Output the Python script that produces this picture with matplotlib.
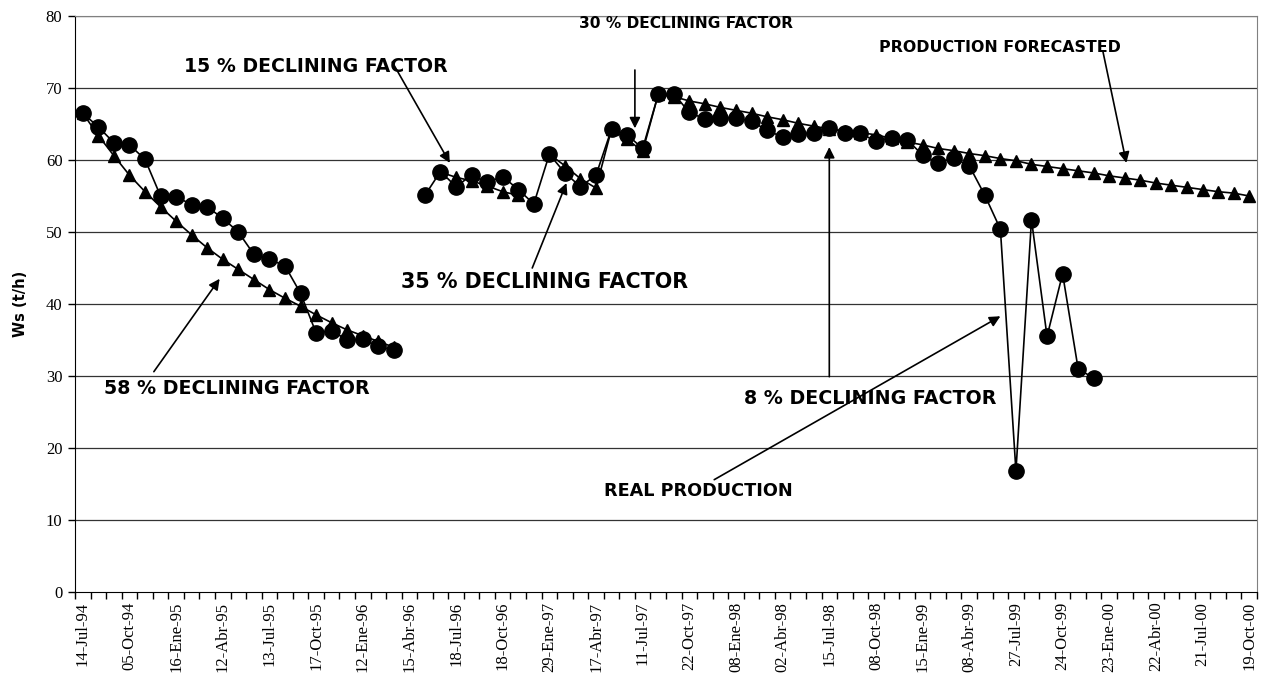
import numpy as np
import matplotlib
matplotlib.use("Agg")
import matplotlib.pyplot as plt

nan = np.nan

# x labels, one every third category (76 categories)
date_labels = ['14-Jul-94', '05-Oct-94', '16-Ene-95', '12-Abr-95', '13-Jul-95', '17-Oct-95',
               '12-Ene-96', '15-Abr-96', '18-Jul-96', '18-Oct-96', '29-Ene-97', '17-Abr-97',
               '11-Jul-97', '22-Oct-97', '08-Ene-98', '02-Abr-98', '15-Jul-98', '08-Oct-98',
               '15-Ene-99', '08-Abr-99', '27-Jul-99', '24-Oct-99', '23-Ene-00', '22-Abr-00',
               '21-Jul-00', '19-Oct-00']

# real production (circles)
real = [66.5, 64.6, 62.4, 62.1, 60.1, 55.0, 54.9, 53.8, 53.5, 51.9,
        50.0, 46.9, 46.2, 45.3, 41.5, 36.0, 36.3, 35.0, 35.1, 34.1,
        33.6, nan, 55.1, 58.4, 56.3, 57.9, 56.9, 57.7, 55.9, 53.9,
        60.8, 58.2, 56.3, 57.9, 64.3, 63.5, 61.6, 69.1, 69.2, 66.6,
        65.7, 65.9, 65.8, 65.4, 64.1, 63.2, 63.6, 63.8, 64.5, 63.8,
        63.7, 62.6, 63.1, 62.8, 60.7, 59.6, 60.3, 59.2, 55.1, 50.4,
        16.8, 51.7, 35.5, 44.2, 31.0, 29.7, nan, nan, nan, nan,
        nan, nan, nan, nan, nan, nan]

# declining / forecasted production (triangles)
forecast = [66.5, 63.4, 60.6, 57.9, 55.6, 53.5, 51.5, 49.6, 47.8, 46.2,
            44.8, 43.4, 42.0, 40.8, 39.7, 38.5, 37.4, 36.4, 35.6, 34.8,
            34.0, nan, nan, 58.3, 57.6, 57.1, 56.4, 55.6, 55.1, nan,
            60.8, 59.2, 57.4, 56.1, 64.3, 62.9, 61.2, 69.1, 68.8, 68.2,
            67.8, 67.3, 66.9, 66.5, 66.0, 65.6, 65.1, 64.7, 64.3, 64.0,
            63.8, 63.5, 63.0, 62.5, 62.1, 61.6, 61.3, 60.9, 60.6, 60.2,
            59.9, 59.4, 59.1, 58.8, 58.5, 58.2, 57.8, 57.5, 57.2, 56.8,
            56.5, 56.2, 55.9, 55.6, 55.4, 55.0]

x = np.arange(len(real))

fig = plt.figure(figsize=(12.62, 6.77), dpi=100)
ax = fig.add_axes([75/1262, 85/677, 1182/1262, 576/677])

ax.plot(x, real, color='black', lw=1.2, marker='o', ms=11, zorder=3)
ax.plot(x, forecast, color='black', lw=1.2, marker='^', ms=8.5, zorder=4)

ax.set_xlim(-0.5, len(real) - 0.5)
ax.set_ylim(0, 80)
ax.set_yticks(range(0, 81, 10))
for v in range(10, 81, 10):
    ax.axhline(v, color='0.2', lw=0.9, zorder=1)

# tick marks on category boundaries, labels every third category
ax.set_xticks(np.arange(-0.5, len(real), 1))
ax.set_xticklabels([])
ax.set_xticks(np.arange(0, len(real), 3), date_labels, minor=True)
ax.tick_params(axis='x', which='major', direction='out', length=5, width=1)
ax.tick_params(axis='x', which='minor', length=0, pad=7)
ax.tick_params(axis='y', direction='out', length=5, width=1, pad=4)
for lab in ax.get_xticklabels(minor=True):
    lab.set_rotation(90)
    lab.set_family(['Liberation Serif', 'DejaVu Serif'])
    lab.set_fontsize(12)
for lab in ax.get_yticklabels():
    lab.set_family(['Liberation Serif', 'DejaVu Serif'])
    lab.set_fontsize(12)

ax.spines['left'].set_color('black')
ax.spines['bottom'].set_color('black')
ax.spines['top'].set_color('0.5')
ax.spines['right'].set_color('0.5')

ax.set_ylabel('Ws (t/h)', fontsize=10.5, fontweight='bold', family='DejaVu Sans', labelpad=13)

arrow = dict(arrowstyle='-|>', color='black', lw=1.2, mutation_scale=16, shrinkA=0, shrinkB=0)
notes = [
    ('15 % DECLINING FACTOR', 13.6, (6.5, 73.0), (19.9, 73.6), (23.6, 59.6)),
    ('30 % DECLINING FACTOR', 11.1, (31.9, 78.9), (35.5, 72.5), (35.5, 64.4)),
    ('PRODUCTION FORECASTED', 11.4, (51.2, 75.6), (65.6, 75.0), (67.1, 59.6)),
    ('35 % DECLINING FACTOR', 14.9, (20.45, 43.1), (28.9, 45.0), (31.1, 56.8)),
    ('58 % DECLINING FACTOR', 13.7, (1.35, 28.3), (4.57, 30.6), (8.8, 43.5)),
    ('8 % DECLINING FACTOR', 13.7, (42.5, 26.9), (48.0, 29.9), (48.0, 61.8)),
    ('REAL PRODUCTION', 12.7, (33.5, 14.0), (40.6, 15.6), (59.0, 38.3)),
]
for text, size, pos, start, tip in notes:
    ax.text(pos[0], pos[1], text, fontsize=size, fontweight='bold', family='DejaVu Sans',
            ha='left', va='center', zorder=5)
    ax.annotate('', xy=tip, xytext=start, arrowprops=arrow, zorder=6)

fig.savefig('out.png', dpi=100)
